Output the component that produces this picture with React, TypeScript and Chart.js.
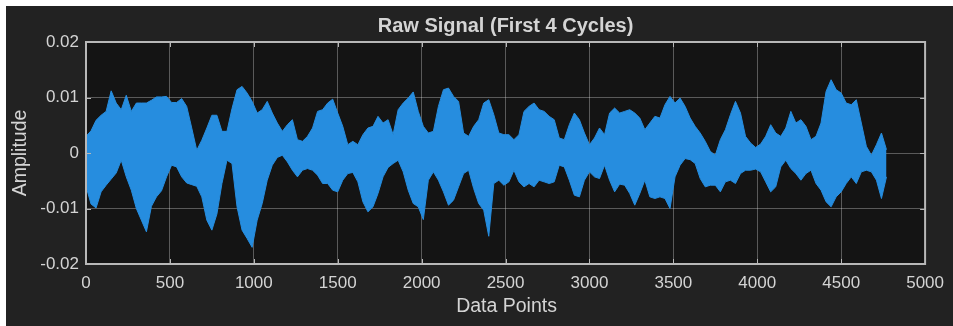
import React, { useEffect, useRef } from "react";
import { Chart, registerables } from "chart.js";

Chart.register(...registerables);

// ---- data ----
// sample positions along the signal (data point index)
const SAMPLE_INDEX = [
  0, 30, 60, 90, 120, 150, 180, 210, 240, 270, 300, 330, 360, 390, 420, 450, 480, 510, 540, 570,
  600, 630, 660, 690, 720, 750, 780, 810, 840, 870, 900, 930, 960, 990, 1020, 1050, 1080, 1110, 1140, 1170,
  1200, 1230, 1260, 1290, 1320, 1350, 1380, 1410, 1440, 1470, 1500, 1530, 1560, 1590, 1620, 1650, 1680, 1710, 1740, 1770,
  1800, 1830, 1860, 1890, 1920, 1950, 1980, 2010, 2040, 2070, 2100, 2130, 2160, 2190, 2220, 2250, 2280, 2310, 2340, 2370,
  2400, 2430, 2460, 2490, 2520, 2550, 2580, 2610, 2640, 2670, 2700, 2730, 2760, 2790, 2820, 2850, 2880, 2910, 2940, 2970,
  3000, 3030, 3060, 3090, 3120, 3150, 3180, 3210, 3240, 3270, 3300, 3330, 3360, 3390, 3420, 3450, 3480, 3510, 3540, 3570,
  3600, 3630, 3660, 3690, 3720, 3750, 3780, 3810, 3840, 3870, 3900, 3930, 3960, 3990, 4020, 4050, 4080, 4110, 4140, 4170,
  4200, 4230, 4260, 4290, 4320, 4350, 4380, 4410, 4440, 4470, 4500, 4530, 4560, 4590, 4620, 4650, 4680, 4710, 4740, 4770,
];

// upper envelope of the raw signal (amplitude)
const SIGNAL_UPPER = [
  0.0030, 0.0040, 0.0059, 0.0068, 0.0075, 0.0112, 0.0090, 0.0078, 0.0104, 0.0075, 0.0090, 0.0090, 0.0090, 0.0095, 0.0101, 0.0101, 0.0102, 0.0091, 0.0091, 0.0098,
  0.0084, 0.0045, 0.0005, 0.0023, 0.0045, 0.0068, 0.0068, 0.0039, 0.0039, 0.0080, 0.0114, 0.0120, 0.0108, 0.0093, 0.0072, 0.0078, 0.0093, 0.0072, 0.0054, 0.0039,
  0.0051, 0.0060, 0.0024, 0.0021, 0.0030, 0.0045, 0.0075, 0.0078, 0.0090, 0.0097, 0.0072, 0.0048, 0.0015, 0.0021, 0.0015, 0.0033, 0.0045, 0.0048, 0.0066, 0.0054,
  0.0060, 0.0033, 0.0078, 0.0090, 0.0099, 0.0110, 0.0075, 0.0048, 0.0036, 0.0039, 0.0084, 0.0114, 0.0117, 0.0102, 0.0093, 0.0036, 0.0030, 0.0048, 0.0060, 0.0090,
  0.0096, 0.0069, 0.0036, 0.0033, 0.0033, 0.0024, 0.0033, 0.0075, 0.0084, 0.0090, 0.0078, 0.0075, 0.0066, 0.0060, 0.0027, 0.0024, 0.0051, 0.0072, 0.0060, 0.0036,
  0.0015, 0.0027, 0.0045, 0.0033, 0.0072, 0.0081, 0.0072, 0.0075, 0.0078, 0.0072, 0.0063, 0.0042, 0.0054, 0.0066, 0.0063, 0.0087, 0.0102, 0.0090, 0.0099, 0.0084,
  0.0063, 0.0048, 0.0036, 0.0021, 0.0003, -0.0004, 0.0024, 0.0042, 0.0069, 0.0093, 0.0072, 0.0030, 0.0018, 0.0010, 0.0016, 0.0030, 0.0051, 0.0036, 0.0030, 0.0045,
  0.0075, 0.0054, 0.0060, 0.0048, 0.0024, 0.0030, 0.0054, 0.0111, 0.0132, 0.0114, 0.0108, 0.0090, 0.0087, 0.0096, 0.0054, 0.0012, -0.0004, 0.0015, 0.0036, 0.0006,
];

// lower envelope of the raw signal (amplitude)
const SIGNAL_LOWER = [
  -0.0060, -0.0092, -0.0099, -0.0070, -0.0058, -0.0047, -0.0036, -0.0013, -0.0043, -0.0067, -0.0100, -0.0121, -0.0142, -0.0096, -0.0079, -0.0068, -0.0043, -0.0022, -0.0025, -0.0043,
  -0.0054, -0.0057, -0.0060, -0.0079, -0.0121, -0.0139, -0.0110, -0.0055, -0.0013, -0.0019, -0.0097, -0.0139, -0.0154, -0.0170, -0.0121, -0.0091, -0.0049, -0.0022, -0.0008, -0.0004,
  -0.0016, -0.0031, -0.0043, -0.0031, -0.0028, -0.0031, -0.0040, -0.0055, -0.0055, -0.0067, -0.0070, -0.0049, -0.0037, -0.0035, -0.0052, -0.0088, -0.0106, -0.0097, -0.0073, -0.0043,
  -0.0026, -0.0019, -0.0013, -0.0034, -0.0067, -0.0091, -0.0097, -0.0120, -0.0049, -0.0034, -0.0049, -0.0070, -0.0094, -0.0085, -0.0061, -0.0037, -0.0031, -0.0064, -0.0091, -0.0103,
  -0.0150, -0.0055, -0.0049, -0.0058, -0.0052, -0.0031, -0.0052, -0.0061, -0.0055, -0.0061, -0.0049, -0.0052, -0.0055, -0.0052, -0.0022, -0.0025, -0.0049, -0.0076, -0.0079, -0.0049,
  -0.0034, -0.0043, -0.0046, -0.0022, -0.0049, -0.0070, -0.0056, -0.0058, -0.0073, -0.0094, -0.0073, -0.0049, -0.0079, -0.0082, -0.0079, -0.0082, -0.0100, -0.0043, -0.0022, -0.0010,
  -0.0012, -0.0019, -0.0046, -0.0061, -0.0058, -0.0058, -0.0070, -0.0052, -0.0049, -0.0055, -0.0037, -0.0031, -0.0031, -0.0029, -0.0034, -0.0052, -0.0070, -0.0061, -0.0025, -0.0013,
  -0.0028, -0.0037, -0.0049, -0.0037, -0.0031, -0.0055, -0.0067, -0.0088, -0.0097, -0.0079, -0.0070, -0.0055, -0.0043, -0.0055, -0.0034, -0.0031, -0.0034, -0.0049, -0.0082, -0.0043,
];

const X_TICKS = [0, 500, 1000, 1500, 2000, 2500, 3000, 3500, 4000, 4500, 5000];
const Y_TICKS = [-0.02, -0.01, 0, 0.01, 0.02];

const TITLE = "Raw Signal (First 4 Cycles)";
const X_LABEL = "Data Points";
const Y_LABEL = "Amplitude";

// ---- styles ----
const FONT = "'Liberation Sans', Arial, sans-serif";
const TEXT = "#d4d4d4";
const BLUE = "#268ddf";
const PLOT_BG = "#141414";
const PANEL_BG = "#222222";
const GRID = "rgba(255,255,255,0.30)";
const BOX = "#b8b8b8";

const decor = {
  id: "matlabDecor",
  beforeDraw(chart: any) {
    const { ctx, chartArea: a } = chart;
    ctx.save();
    ctx.fillStyle = PLOT_BG;
    ctx.fillRect(a.left, a.top, a.right - a.left, a.bottom - a.top);
    ctx.restore();
  },
  afterDraw(chart: any) {
    const { ctx, chartArea: a, scales } = chart;
    ctx.save();
    // ticks pointing inward
    ctx.strokeStyle = BOX;
    ctx.lineWidth = 1;
    const tl = 5;
    ctx.beginPath();
    X_TICKS.forEach((v) => {
      const x = Math.round(scales.x.getPixelForValue(v)) + 0.5;
      ctx.moveTo(x, a.top);
      ctx.lineTo(x, a.top + tl);
      ctx.moveTo(x, a.bottom);
      ctx.lineTo(x, a.bottom - tl);
    });
    Y_TICKS.forEach((v) => {
      const y = Math.round(scales.y.getPixelForValue(v)) + 0.5;
      ctx.moveTo(a.left, y);
      ctx.lineTo(a.left + tl, y);
      ctx.moveTo(a.right, y);
      ctx.lineTo(a.right - tl, y);
    });
    ctx.stroke();
    // box
    ctx.lineWidth = 2;
    ctx.strokeRect(a.left, a.top, a.right - a.left, a.bottom - a.top);

    // texts
    ctx.fillStyle = TEXT;
    ctx.textAlign = "center";
    ctx.textBaseline = "middle";
    const cx = (a.left + a.right) / 2;
    ctx.font = `bold 20px ${FONT}`;
    ctx.fillText(TITLE, cx, 20);
    ctx.font = `19.5px ${FONT}`;
    ctx.fillText(X_LABEL, cx + 1, 301);
    ctx.translate(15, (a.top + a.bottom) / 2);
    ctx.rotate(-Math.PI / 2);
    ctx.fillText(Y_LABEL, 0, 0);
    ctx.restore();
  },
};

export default function App() {
  const ref = useRef<HTMLCanvasElement | null>(null);

  useEffect(() => {
    if (!ref.current) return;
    const upper = SAMPLE_INDEX.map((x, i) => ({ x, y: SIGNAL_UPPER[i] }));
    const lower = SAMPLE_INDEX.map((x, i) => ({ x, y: SIGNAL_LOWER[i] }));
    const chart = new Chart(ref.current, {
      type: "line",
      data: {
        datasets: [
          {
            data: upper,
            borderColor: BLUE,
            backgroundColor: BLUE,
            borderWidth: 1,
            pointRadius: 0,
            fill: "+1",
            tension: 0,
          },
          {
            data: lower,
            borderColor: BLUE,
            backgroundColor: BLUE,
            borderWidth: 1,
            pointRadius: 0,
            fill: false,
            tension: 0,
          },
        ],
      },
      options: {
        responsive: false,
        animation: false,
        devicePixelRatio: 1,
        layout: { padding: { top: 36, right: 25, left: 0, bottom: 0 } },
        plugins: {
          legend: { display: false },
          title: { display: false },
          tooltip: { enabled: false },
        },
        scales: {
          x: {
            type: "linear",
            min: 0,
            max: 5000,
            afterBuildTicks: (s: any) => {
              s.ticks = X_TICKS.map((value) => ({ value }));
            },
            afterFit: (s: any) => {
              s.height = 62;
            },
            grid: { color: GRID, lineWidth: 1, drawTicks: false },
            border: { display: false },
            ticks: {
              color: TEXT,
              font: { family: FONT, size: 17 },
              padding: 9,
              maxRotation: 0,
              autoSkip: false,
              callback: (v: any) => String(v),
            },
          },
          y: {
            type: "linear",
            min: -0.02,
            max: 0.02,
            afterBuildTicks: (s: any) => {
              s.ticks = Y_TICKS.map((value) => ({ value }));
            },
            afterFit: (s: any) => {
              s.width = 80;
            },
            grid: { color: GRID, lineWidth: 1, drawTicks: false },
            border: { display: false },
            ticks: {
              color: TEXT,
              font: { family: FONT, size: 17 },
              padding: 7,
              autoSkip: false,
              callback: (v: any) => (Math.abs(v) < 1e-9 ? "0" : String(Number(v.toFixed(2)))),
            },
          },
        },
      },
      plugins: [decor],
    });
    return () => chart.destroy();
  }, []);

  return (
    <div
      style={{
        position: "absolute",
        left: 6,
        top: 6,
        width: 947,
        height: 320,
        background: PANEL_BG,
      }}
    >
      <canvas ref={ref} width={947} height={320} style={{ display: "block" }} />
    </div>
  );
}
